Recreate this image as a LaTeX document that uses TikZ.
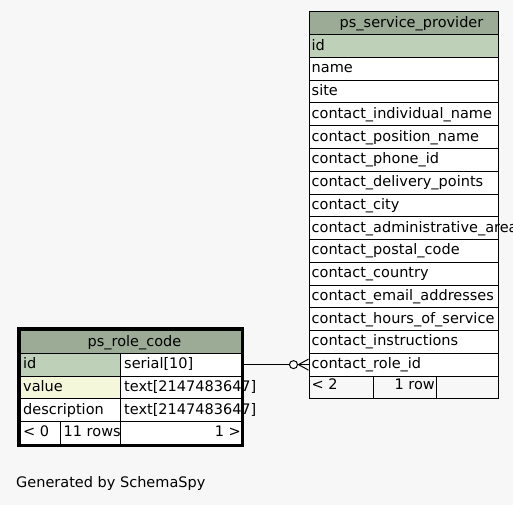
\documentclass[tikz,border=0pt]{standalone}
\usepackage{fontspec}
\setmainfont{DejaVu Sans}
\usetikzlibrary{calc}
\definecolor{bgc}{HTML}{F7F7F7}
\definecolor{hdrc}{HTML}{9BAB96}
\definecolor{pkc}{HTML}{BED1B8}
\definecolor{idxc}{HTML}{F4F7DA}
\tikzset{
  cell/.style={draw=black, line width=1pt, inner sep=0pt, anchor=north west, minimum height=22.75pt},
  txt/.style={inner sep=0pt, font=\fontsize{14.5}{17}\selectfont, text=black},
}
\begin{document}
\begin{tikzpicture}[x=1pt,y=-1pt]
\fill[bgc] (0,0) rectangle (513,505);
\useasboundingbox (0,0) rectangle (513,505);

% ---- right table: ps_service_provider
\node[cell, fill=hdrc, minimum width=189pt] (rh) at (308.5,11.5) {};
\node[txt, anchor=base] at ($(rh.north)+(8,16)$) {ps\_service\_provider};
\foreach \t [count=\i from 0] in {id,name,site,contact\_individual\_name,contact\_position\_name,contact\_phone\_id,contact\_delivery\_points,contact\_city,contact\_administrative\_area,contact\_postal\_code,contact\_country,contact\_email\_addresses,contact\_hours\_of\_service,contact\_instructions,contact\_role\_id}{
  \pgfmathsetmacro{\yy}{34.25+22.75*\i}
  \ifnum\i=0 \def\fc{pkc}\else\def\fc{white}\fi
  \node[cell, fill=\fc, minimum width=189pt] (r\i) at (308.5,\yy) {};
}
\foreach \t [count=\i from 0] in {id,name,site,contact\_individual\_name,contact\_position\_name,contact\_phone\_id,contact\_delivery\_points,contact\_city,contact\_administrative\_area,contact\_postal\_code,contact\_country,contact\_email\_addresses,contact\_hours\_of\_service,contact\_instructions,contact\_role\_id}{
  \node[txt, anchor=base west] at ($(r\i.north west)+(3,15.8)$) {\t};
}
\node[cell, fill=bgc, minimum width=64pt, minimum height=22pt] (rf1) at (308.5,375.5) {};
\node[cell, fill=bgc, minimum width=63.5pt, minimum height=22pt] (rf2) at (372.5,375.5) {};
\node[cell, fill=bgc, minimum width=61.5pt, minimum height=22pt] (rf3) at (436,375.5) {};
\node[txt, anchor=base west] at ($(rf1.north west)+(3,13.5)$) {< 2};
\node[txt, anchor=base east] at ($(rf2.north east)+(-2,13.5)$) {1 row};

% ---- left table: ps_role_code
\draw[line width=3pt] (18.5,328.5) rectangle (242.5,445.5);
\node[cell, fill=hdrc, minimum width=221pt] (lh) at (20,330) {};
\node[txt, anchor=base] at ($(lh.north)+(3.5,16)$) {ps\_role\_code};
\node[cell, fill=pkc, minimum width=100pt] (l1a) at (20,352.75) {};
\node[cell, fill=white, minimum width=121pt] (l1b) at (120,352.75) {};
\node[cell, fill=idxc, minimum width=100pt] (l2a) at (20,375.5) {};
\node[cell, fill=white, minimum width=121pt] (l2b) at (120,375.5) {};
\node[cell, fill=white, minimum width=100pt] (l3a) at (20,398.25) {};
\node[cell, fill=white, minimum width=121pt] (l3b) at (120,398.25) {};
\node[cell, fill=white, minimum width=40pt] (lf1) at (20,421) {};
\node[cell, fill=white, minimum width=60pt] (lf2) at (60,421) {};
\node[cell, fill=white, minimum width=121pt] (lf3) at (120,421) {};
\node[txt, anchor=base west] at ($(l1a.north west)+(3,15.8)$) {id};
\node[txt, anchor=base west] at ($(l1b.north west)+(4,15.8)$) {serial[10]};
\node[txt, anchor=base west] at ($(l2a.north west)+(3,15.8)$) {value};
\node[txt, anchor=base west] at ($(l2b.north west)+(4,15.8)$) {text[2147483647]};
\node[txt, anchor=base west] at ($(l3a.north west)+(3,15.8)$) {description};
\node[txt, anchor=base west] at ($(l3b.north west)+(4,15.8)$) {text[2147483647]};
\node[txt, anchor=base west] at ($(lf1.north west)+(3,15.8)$) {< 0};
\node[txt, anchor=base west] at ($(lf2.north west)+(3.5,15.8)$) {11 rows};
\node[txt, anchor=base east] at ($(lf3.north east)+(-1,15.8)$) {1 >};

% ---- connector
\coordinate (cfa) at ($(r14.west)+(-10,0)$);
\coordinate (cfu) at ($(r14.west)+(0,-5.5)$);
\coordinate (cfd) at ($(r14.west)+(0,5.5)$);
\node[circle, draw=black, fill=white, line width=1pt, minimum size=8pt, inner sep=0pt] (cc) at ($(r14.west)+(-15,0)$) {};
\draw[line width=1pt] (l1b.east) -- (cc.west);
\draw[line width=1pt] (cc.east) -- (r14.west);
\draw[line width=1pt] (cfa) -- (cfu) (cfa) -- (cfd);

\node[txt, anchor=base west] (gen) at (16,487) {Generated by SchemaSpy};
\end{tikzpicture}
\end{document}
